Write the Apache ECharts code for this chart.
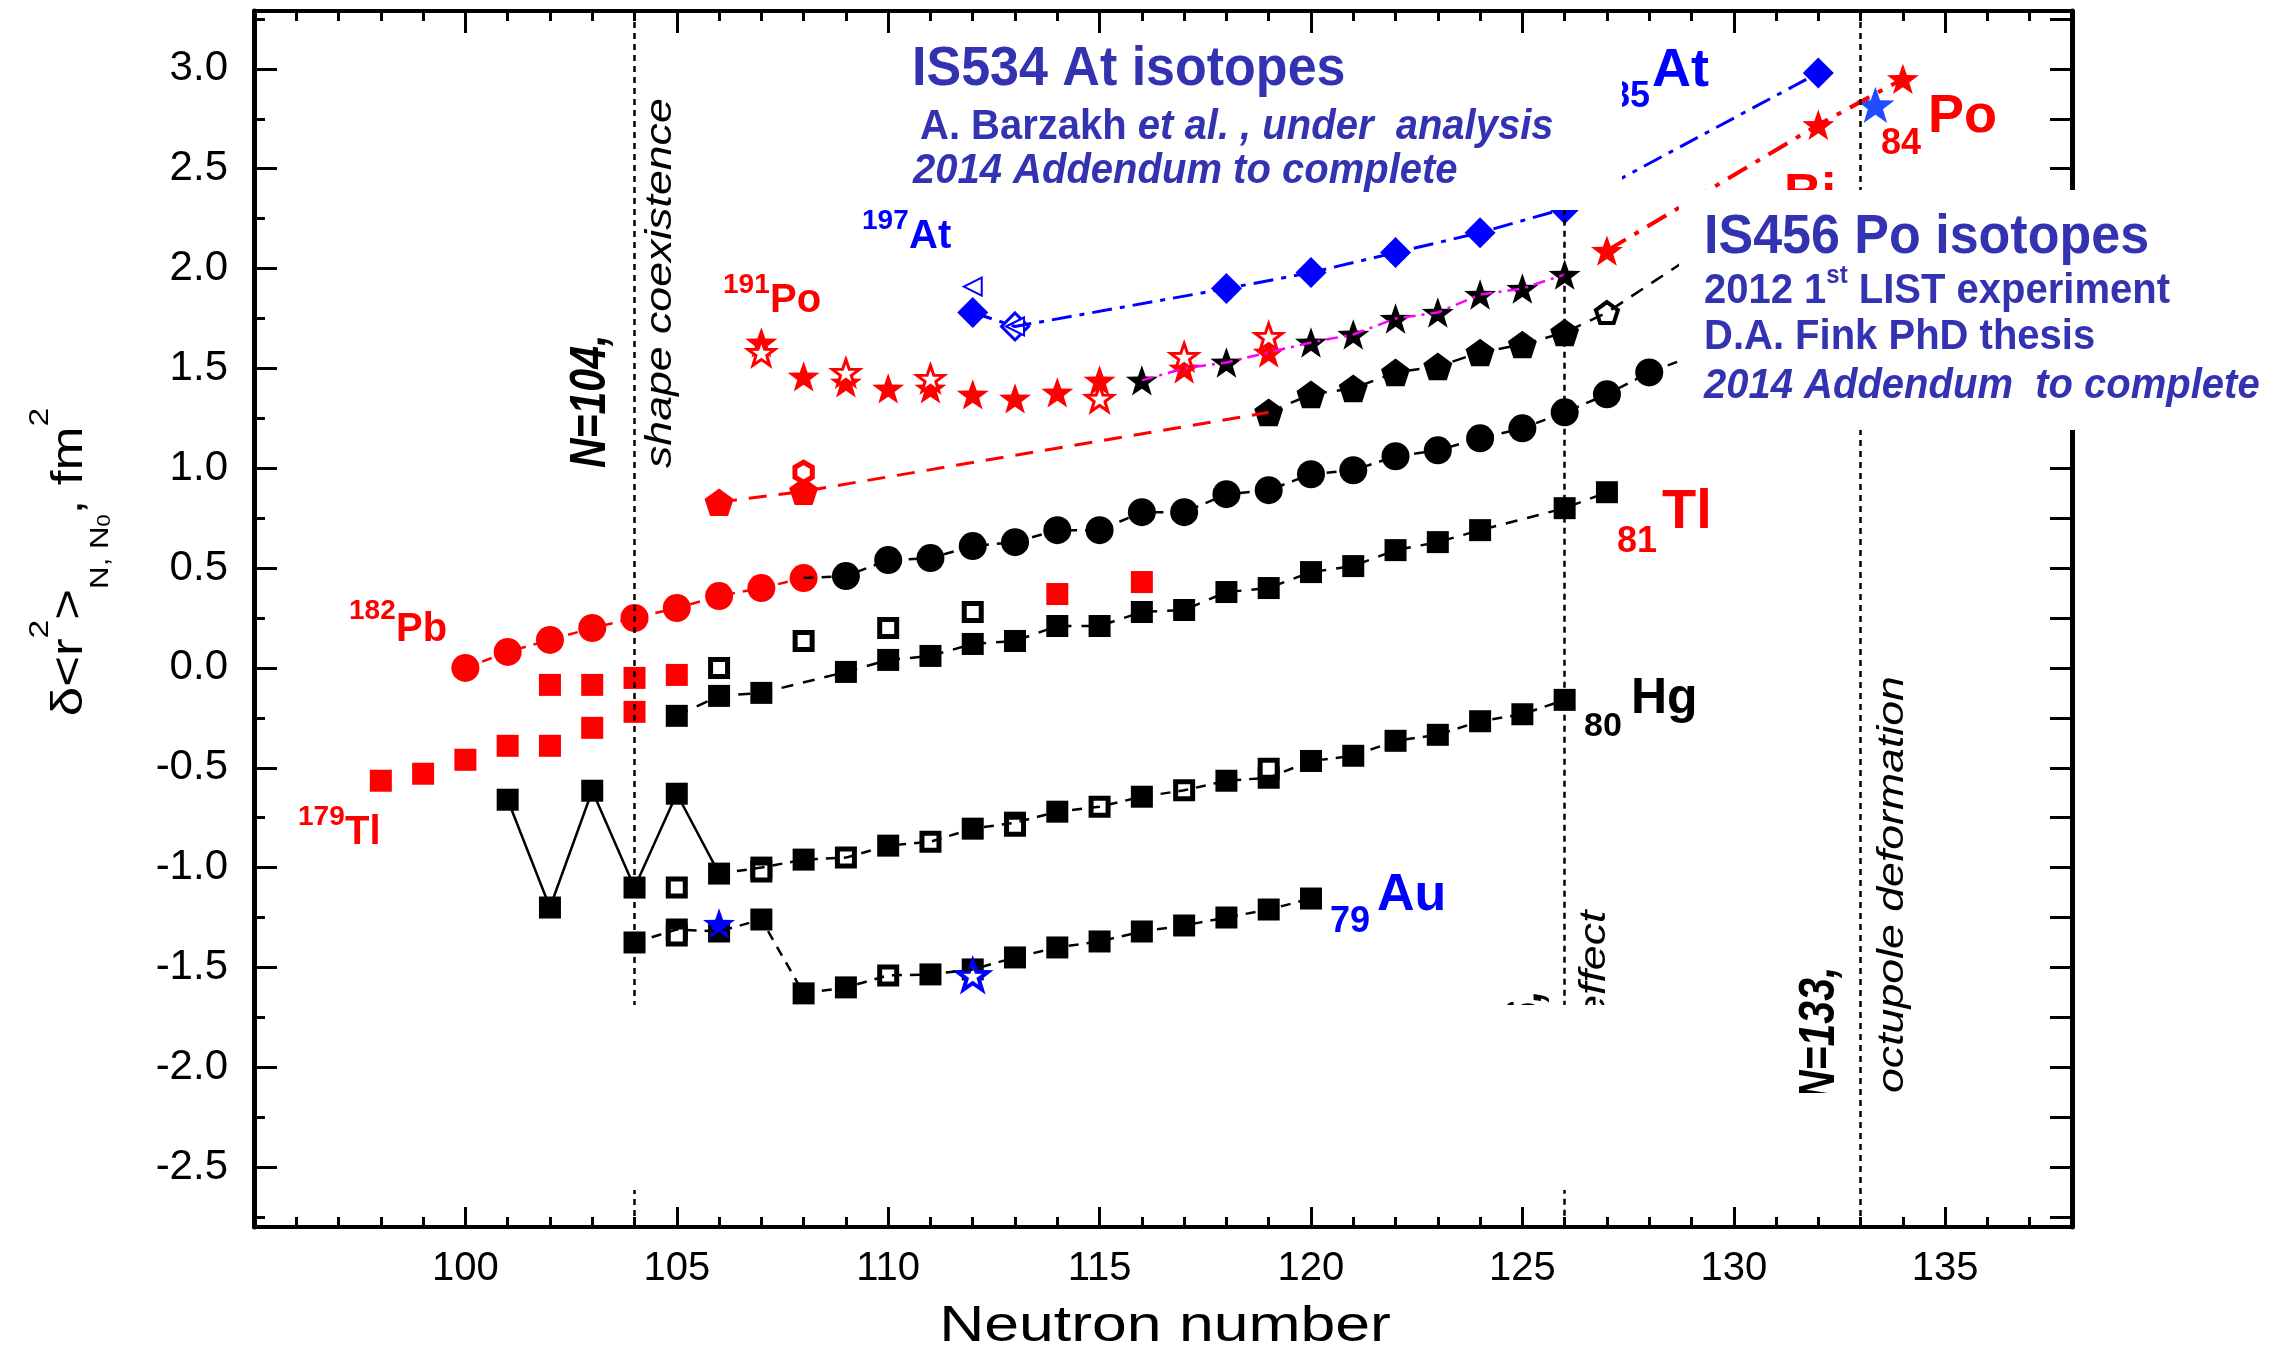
<!DOCTYPE html>
<html>
<head>
<meta charset="utf-8">
<title>Charge radii</title>
<script src="https://cdn.jsdelivr.net/npm/echarts@6/dist/echarts.min.js"></script>
<style>
html, body { margin: 0; padding: 0; background: #fff; }
#chart { width: 2280px; height: 1353px; }
</style>
</head>
<body>
<div id="chart"></div>
<script>
var FONT = "'Liberation Sans', Arial, sans-serif";
var RED = '#ff0000', BLUE = '#0000ff', MAGENTA = '#ff00ff', INK = '#3333b2';

// axes
var xMin = 95, xMax = 138;
var yMin = -2.8, yMax = 3.29;
var xMajor = [95, 100, 105, 110, 115, 120, 125, 130, 135];
var xLabels = [100, 105, 110, 115, 120, 125, 130, 135];
var xMinor = [96, 97, 98, 99, 101, 102, 103, 104, 106, 107, 108, 109, 111, 112, 113, 114, 116, 117, 118, 119,
              121, 122, 123, 124, 126, 127, 128, 129, 131, 132, 133, 134, 136, 137];
var yMajor = [-2.5, -2.0, -1.5, -1.0, -0.5, 0.0, 0.5, 1.0, 1.5, 2.0, 2.5, 3.0];
var yMinor = [-2.75, -2.25, -1.75, -1.25, -0.75, -0.25, 0.25, 0.75, 1.25, 1.75, 2.25, 2.75, 3.25];

// shell closures / deformation lines: [N, from, to]
var shellLines = [[104, 3.29, -2.8], [126, 2.30, -2.8], [133, 3.29, -2.8]];

// Pb
var pbRed = [[100, 0.00], [101, 0.08], [102, 0.14], [103, 0.20], [104, 0.25], [105, 0.30], [106, 0.36], [107, 0.40], [108, 0.45]];
var pbBlack = [[109, 0.46], [110, 0.54], [111, 0.55], [112, 0.61], [113, 0.63], [114, 0.69], [115, 0.69], [116, 0.78],
               [117, 0.78], [118, 0.87], [119, 0.89], [120, 0.97], [121, 0.99], [122, 1.06], [123, 1.09], [124, 1.15],
               [125, 1.20], [126, 1.28], [127, 1.37], [128, 1.48]];
var pbUnderBox = [[129, 1.56]];

// Tl
var tlBlack = [[105, -0.24], [106, -0.14], [107, -0.125], [109, -0.02], [110, 0.04], [111, 0.06], [112, 0.12], [113, 0.135],
               [114, 0.21], [115, 0.21], [116, 0.28], [117, 0.29], [118, 0.38], [119, 0.40], [120, 0.48], [121, 0.51],
               [122, 0.59], [123, 0.63], [124, 0.69], [126, 0.80], [127, 0.88]];
var tlOpen = [[106, 0.00], [108, 0.135], [110, 0.20], [112, 0.28]];
var tlRed = [[98, -0.565], [99, -0.53], [100, -0.46], [101, -0.39], [102, -0.39], [103, -0.30], [104, -0.22],
             [102, -0.085], [103, -0.085], [104, -0.05], [105, -0.035], [114, 0.37], [116, 0.43]];

// Hg
var hgZig = [[101, -0.66], [102, -1.20], [103, -0.615], [104, -1.10], [105, -0.63]];
var hgFilled = [[106, -1.03], [107, -1.00], [108, -0.96], [110, -0.89], [112, -0.805], [113, -0.775], [114, -0.72],
                [116, -0.645], [118, -0.565], [119, -0.55], [120, -0.466], [121, -0.44], [122, -0.365], [123, -0.335],
                [124, -0.267], [125, -0.232], [126, -0.16]];
var hgOpen = [[105, -1.10], [107, -1.02], [109, -0.95], [111, -0.87], [113, -0.79], [115, -0.695], [117, -0.613], [119, -0.505]];

// Au
var auFilled = [[104, -1.375], [105, -1.31], [106, -1.32], [107, -1.26], [108, -1.63], [109, -1.60], [111, -1.535],
                [112, -1.51], [113, -1.45], [114, -1.40], [115, -1.37], [116, -1.32], [117, -1.29], [118, -1.25],
                [119, -1.21], [120, -1.155]];
var auOpen = [[105, -1.34], [110, -1.54]];
var auStar = [[106, -1.28]];
var auStarOpen = [[112, -1.54]];

// Po
var poPentRed = [[106, 0.83], [108, 0.885]];
var poHexOpen = [[108, 0.98]];
var poPentBlack = [[119, 1.28], [120, 1.37], [121, 1.40], [122, 1.48], [123, 1.51], [124, 1.58], [125, 1.62], [126, 1.68]];
var poPentOpen = [[127, 1.78]];
var poUnderBox = [[129, 2.06]];
var poStarRed = [[107, 1.63], [108, 1.46], [109, 1.43], [110, 1.40], [111, 1.40], [112, 1.37], [113, 1.35], [114, 1.38],
                 [115, 1.44], [117, 1.50], [119, 1.58], [127, 2.09], [132, 2.72], [134, 2.95]];
var poStarOpen = [[107, 1.58], [109, 1.48], [111, 1.45], [115, 1.35], [117, 1.56], [119, 1.66]];
var poStarBlack = [[116, 1.44], [118, 1.53], [120, 1.63], [121, 1.67], [122, 1.75], [123, 1.78], [124, 1.87], [125, 1.90], [126, 1.97]];
var poStarBlue = [[133.35, 2.82]];

// At
var atDiamond = [[112, 1.78], [118, 1.90], [120, 1.98], [122, 2.08], [124, 2.18], [126, 2.30], [132, 2.98]];
var atDiamondOpen = [[113, 1.71]];
var atTriangle = [[112, 1.91], [113, 1.71]];

var STAR = 'path://M0,-10L2.35,-3.24L9.51,-3.09L3.8,1.24L5.88,8.09L0,4L-5.88,8.09L-3.8,1.24L-9.51,-3.09L-2.35,-3.24Z';
var PENT = 'path://M0,-10L9.51,-3.09L5.88,8.09L-5.88,8.09L-9.51,-3.09Z';
var HEX = 'path://M0,-10L8.66,-5L8.66,5L0,10L-8.66,5L-8.66,-5Z';

function merge(primary, secondary, lo, hi) {
    var map = {};
    secondary.concat(primary).forEach(function (p) { map[p[0]] = p; });
    var res = [];
    for (var k in map) {
        if (map[k][0] >= lo && map[k][0] <= hi) res.push(map[k]);
    }
    res.sort(function (a, b) { return a[0] - b[0]; });
    return res;
}

var series = [];

function addLine(data, color, width, dash) {
    series.push({
        type: 'line', data: data, symbol: 'none', silent: true,
        lineStyle: { color: color, width: width, type: dash }
    });
}

function addMarks(data, symbol, size, fill, border, bw, rotate) {
    series.push({
        type: 'scatter', data: data, symbol: symbol, symbolSize: size, symbolKeepAspect: true,
        symbolRotate: rotate || 0, silent: true,
        itemStyle: { color: fill, borderColor: border || fill, borderWidth: bw || 0, opacity: 1 }
    });
}

// shell lines
series.push({
    type: 'line', data: [], symbol: 'none', silent: true,
    markLine: {
        silent: true, symbol: ['none', 'none'], label: { show: false }, animation: false,
        lineStyle: { color: '#000', width: 2.5, type: [6, 5] },
        data: shellLines.map(function (s) { return [{ coord: [s[0], s[1]] }, { coord: [s[0], s[2]] }]; })
    }
});

// connecting lines
addLine(pbRed, RED, 2.5, [10, 8]);
addLine([pbRed[pbRed.length - 1]].concat(pbBlack, pbUnderBox), '#000', 2.5, [10, 8]);
addLine(tlBlack, '#000', 2.5, [12, 10]);
addLine(hgZig.concat([hgFilled[0]]), '#000', 2.5, 'solid');
addLine(merge(hgFilled, hgOpen, 106, 126), '#000', 2.5, [10, 8]);
addLine(merge(auFilled, auOpen, 104, 120), '#000', 2.5, [10, 8]);
addLine(poPentRed.concat([poPentBlack[0]]), RED, 3, [18, 12]);
addLine(poPentBlack.concat(poPentOpen, poUnderBox), '#000', 2.5, [14, 10]);
addLine(merge(poStarBlack, poStarRed, 116, 126), MAGENTA, 2.5, [12, 6, 3, 6]);
addLine(poStarRed.filter(function (p) { return p[0] >= 127; }), RED, 4, [22, 10, 5, 10]);
addLine(merge(atDiamond, atDiamondOpen, 112, 132), BLUE, 3, [20, 8, 5, 8]);

// markers
addMarks(pbRed, 'circle', 28, RED);
addMarks(pbBlack, 'circle', 28, '#000');
addMarks(tlRed, 'rect', 22, RED);
addMarks(tlBlack, 'rect', 22, '#000');
addMarks(tlOpen, 'rect', 17, '#fff', '#000', 5);
addMarks(hgZig, 'rect', 22, '#000');
addMarks(hgFilled, 'rect', 22, '#000');
addMarks(hgOpen, 'rect', 17, '#fff', '#000', 5);
addMarks(auFilled, 'rect', 22, '#000');
addMarks(auOpen, 'rect', 17, '#fff', '#000', 5);
addMarks(auStar, STAR, 32, BLUE);
addMarks(auStarOpen, STAR, 30, '#fff', BLUE, 4);
addMarks(poPentRed, PENT, 29, RED);
addMarks(poHexOpen, HEX, 20, '#fff', RED, 5);
addMarks(poPentBlack, PENT, 29, '#000');
addMarks(poPentOpen, PENT, 22, '#fff', '#000', 4);
addMarks(poStarRed, STAR, 32, RED);
addMarks(poStarBlack, STAR, 32, '#000');
addMarks(poStarOpen, STAR, 27, '#fff', RED, 3);
addMarks(atDiamond, 'diamond', 31, BLUE);
addMarks(atDiamondOpen, 'diamond', 27, '#fff', BLUE, 3);
addMarks(atTriangle, 'triangle', 18, '#fff', BLUE, 2, 90);
addMarks(poStarBlue, STAR, 38, '#1f4dff');

function xAxisDef(pos, ticks, len, line, labels) {
    return {
        type: 'value', min: xMin, max: xMax, position: pos,
        axisLine: { show: line, onZero: false, lineStyle: { color: '#000', width: 4 } },
        axisTick: { show: true, inside: true, length: len, customValues: ticks, lineStyle: { color: '#000', width: 3 } },
        axisLabel: labels ? {
            show: true, customValues: labels, margin: 22, color: '#000', fontSize: 40, fontFamily: FONT,
            formatter: function (v) { return String(Math.round(v)); }
        } : { show: false },
        splitLine: { show: false }
    };
}

function yAxisDef(pos, ticks, len, line, labels) {
    return {
        type: 'value', min: yMin, max: yMax, position: pos,
        axisLine: { show: line, onZero: false, lineStyle: { color: '#000', width: 5 } },
        axisTick: { show: true, inside: true, length: len, customValues: ticks, lineStyle: { color: '#000', width: 3 } },
        axisLabel: labels ? {
            show: true, customValues: labels, margin: 26, color: '#000', fontSize: 42, fontFamily: FONT,
            formatter: function (v) { return v.toFixed(1); }
        } : { show: false },
        splitLine: { show: false }
    };
}

function txt(x, y, text, size, color, extra) {
    extra = extra || {};
    var style = {
        text: text, fill: color, fontSize: size, fontFamily: FONT,
        fontWeight: extra.weight || 'bold', fontStyle: extra.italic ? 'italic' : 'normal',
        align: extra.align || 'left', verticalAlign: 'middle',
        textAlign: extra.align || 'left', textVerticalAlign: 'middle'
    };
    if (extra.rich) style.rich = extra.rich;
    return {
        type: 'text', x: x, y: y, z: extra.z || 120, silent: true,
        rotation: extra.rot || 0, scaleX: extra.sx || 1, scaleY: extra.sy || 1,
        style: style
    };
}

function box(x, y, w, h) {
    return { type: 'rect', z: 100, silent: true, shape: { x: x, y: y, width: w, height: h }, style: { fill: '#fff' } };
}

var R90 = Math.PI / 2;
var graphics = [
    // partially hidden labels sit below the white boxes
    txt(1610, 97, '85', 36, BLUE, { z: 90 }),
    txt(1784, 196, 'Bi', 52, RED, { z: 90 }),
    txt(1527, 1124, 'N=126,', 50, '#000', { italic: true, rot: R90, sx: 0.82, z: 90 }),
    txt(1595, 1124, 'shell effect', 36, '#000', { italic: true, weight: 'normal', rot: R90, sx: 1.24, z: 90 }),
    txt(1820, 1100, 'N=133,', 50, '#000', { italic: true, rot: R90, sx: 0.82, z: 90 }),

    box(880, 35, 742, 175),
    box(1679, 190, 601, 240),
    box(610, 1005, 1170, 185),
    box(1788, 1093, 62, 110),

    txt(912, 70, 'IS534 At isotopes', 52, INK, { sy: 1.08 }),
    txt(920, 127, '{b|A. Barzakh }{i|et al. , under  analysis}', 40, INK, {
        sy: 1.08,
        rich: {
            b: { fontSize: 40, fontWeight: 'bold', fontFamily: FONT, fill: INK, color: INK },
            i: { fontSize: 40, fontWeight: 'bold', fontStyle: 'italic', fontFamily: FONT, fill: INK, color: INK }
        }
    }),
    txt(913, 171, '2014 Addendum to complete', 40, INK, { italic: true, sy: 1.08 }),
    txt(1704, 238, 'IS456 Po isotopes', 52, INK, { sy: 1.08 }),
    txt(1704, 291, '{a|2012 1}{s|st}{a| LIST experiment}', 40, INK, {
        sy: 1.08,
        rich: {
            a: { fontSize: 40, fontWeight: 'bold', fontFamily: FONT, fill: INK, color: INK, lineHeight: 52 },
            s: { fontSize: 24, fontWeight: 'bold', fontFamily: FONT, fill: INK, color: INK, lineHeight: 30, verticalAlign: 'top' }
        }
    }),
    txt(1704, 337, 'D.A. Fink PhD thesis', 40, INK, { sy: 1.08 }),
    txt(1704, 386, '2014 Addendum  to complete', 40, INK, { italic: true, sy: 1.08 }),

    txt(862, 221, '197', 28, BLUE),
    txt(909, 237, 'At', 40, BLUE),
    txt(723, 285, '191', 28, RED),
    txt(770, 301, 'Po', 40, RED),
    txt(349, 611, '182', 28, RED),
    txt(396, 630, 'Pb', 40, RED),
    txt(298, 817, '179', 28, RED),
    txt(345, 833, 'Tl', 40, RED),
    txt(1652, 71, 'At', 54, BLUE),
    txt(1881, 144, '84', 36, RED),
    txt(1928, 117, 'Po', 54, RED),
    txt(1617, 542, '81', 36, RED),
    txt(1662, 513, 'Tl', 56, RED),
    txt(1584, 727, '80', 34, '#000'),
    txt(1631, 699, 'Hg', 50, '#000'),
    txt(1330, 922, '79', 36, BLUE),
    txt(1377, 896, 'Au', 52, BLUE),

    txt(591, 468, 'N=104,', 50, '#000', { italic: true, rot: R90, sx: 0.82 }),
    txt(661, 468, 'shape coexistence', 36, '#000', { italic: true, weight: 'normal', rot: R90, sx: 1.24 }),
    txt(1893, 1093, 'octupole deformation', 36, '#000', { italic: true, weight: 'normal', rot: R90, sx: 1.24 }),

    txt(1165, 1327, 'Neutron number', 50, '#000', { weight: 'normal', align: 'center', sx: 1.25 }),
    txt(70, 562, '{m|δ<r}{sp|2}{m|>}{sb|N, N}{sb0|0}{m|, fm}{sp|2}', 44, '#000', {
        weight: 'normal', align: 'center', rot: R90, sx: 1.2,
        rich: {
            m: { fontSize: 44, fontFamily: FONT, fill: '#000', color: '#000', lineHeight: 88 },
            sp: { fontSize: 28, fontFamily: FONT, fill: '#000', color: '#000', lineHeight: 32, verticalAlign: 'top' },
            sb: { fontSize: 26, fontFamily: FONT, fill: '#000', color: '#000', lineHeight: 30, verticalAlign: 'bottom' },
            sb0: { fontSize: 18, fontFamily: FONT, fill: '#000', color: '#000', lineHeight: 22, verticalAlign: 'bottom' }
        }
    })
];

var myChart = echarts.init(document.getElementById('chart'), null, { renderer: 'canvas' });
var option = {
    animation: false,
    backgroundColor: '#fff',
    grid: { left: 254, right: 208, top: 11, bottom: 126, containLabel: false },
    xAxis: [
        xAxisDef('bottom', xMajor, 20, true, xLabels),
        xAxisDef('bottom', xMinor, 10, false, null),
        xAxisDef('top', xMajor, 22, true, null),
        xAxisDef('top', xMinor, 10, false, null)
    ],
    yAxis: [
        yAxisDef('left', yMinor, 11, true, yMajor),
        yAxisDef('left', yMajor, 23, false, null),
        yAxisDef('right', yMinor.concat(yMajor), 22, true, null)
    ],
    series: series,
    graphic: { elements: graphics }
};
myChart.setOption(option);
window.onresize = myChart.resize;
</script>
</body>
</html>
